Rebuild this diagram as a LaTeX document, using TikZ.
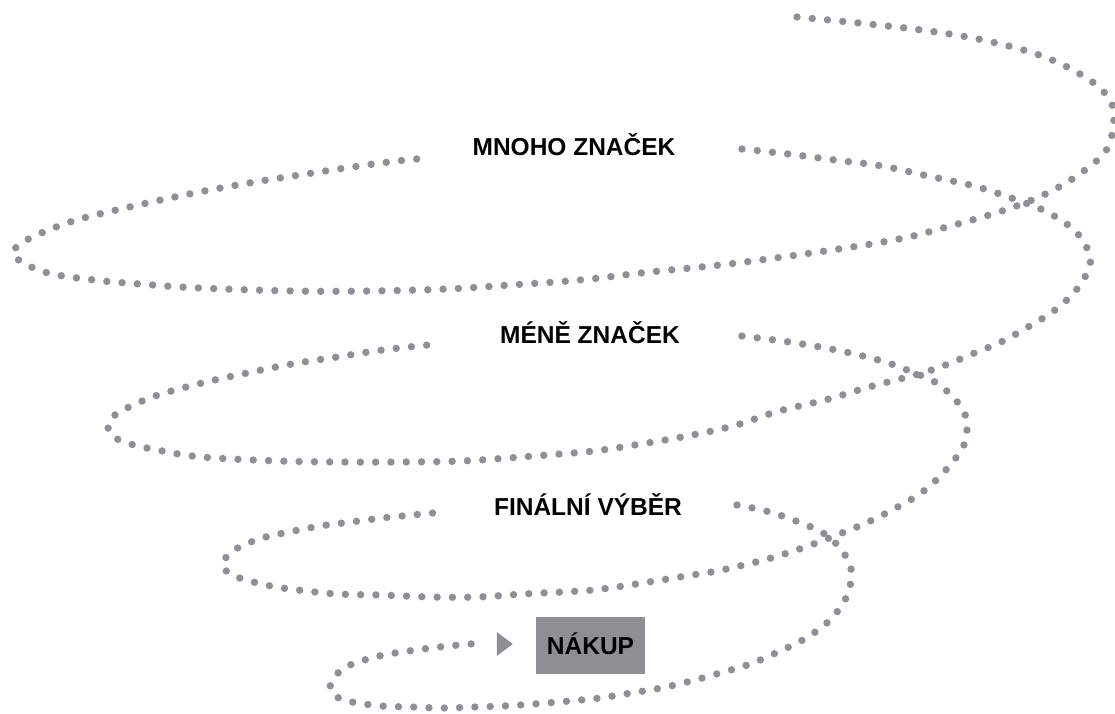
\documentclass[tikz,border=0pt]{standalone}
\usepackage{fontspec}
\setmainfont{Liberation Sans}
\usetikzlibrary{calc}
\definecolor{dotgrey}{RGB}{143,143,149}
\definecolor{boxgrey}{RGB}{143,143,147}
\tikzset{
  spiral/.style={dotgrey, line width=7.4pt, line cap=round,
    dash pattern=on 0pt off 15.3pt},
  stage/.style={font=\fontsize{24.5}{28}\selectfont\bfseries, text=black,
    inner sep=0pt, anchor=base},
  goal/.style={font=\fontsize{24.5}{28}\selectfont\bfseries, text=black,
    fill=boxgrey, minimum width=109pt, minimum height=57pt,
    text height=17.5pt, text depth=0pt, inner sep=0pt},
  tip/.style={fill=dotgrey}
}
\begin{document}
\begin{tikzpicture}[x=1pt,y=-1pt]
\useasboundingbox (0,0) rectangle (1115,713);

% stage labels along the spiral
\node[stage] (many)  at (574,155) {MNOHO ZNAČEK};
\node[stage] (fewer) at (590,343) {MÉNĚ ZNAČEK};
\node[stage] (final) at (588,515) {FINÁLNÍ VÝBĚR};
\node[goal]  (buy)   at (590.5,645.5) {NÁKUP};
\coordinate (tipend) at ($(buy.west)+(-23,-1.5)$);

% first turn: from the top right round to the first label
\draw[spiral] plot[smooth, tension=0.6] coordinates {
  (797,17) (859,23) (921,30) (983,40) (1042,56) (1085,77) (1108,97)
  (1114,118) (1107,149) (1085,170) (1059,187) (1032,200) (1002,211)
  (972,220) (943,228) (913,236) (883,242) (852,247) (790,256) (720,265)
  (650,272) (580,280) (510,285) (447,289) (370,291) (293,291) (200,288)
  (140,284) (94,280) (48,273) (22,262) (13,253) (23,242) (51,229) (80,219)
  (125,208) (170,198) (215,189) (261,181) (306,174) (352,167) (397,161)
  (428,158)};

% second turn
\draw[spiral] plot[smooth, tension=0.6] coordinates {
  (742,149) (788,154) (835,160) (882,166) (928,176) (974,186) (1017,200)
  (1047,212) (1073,229) (1087,248) (1090,265) (1077,289) (1055,310)
  (1028,327) (1001,342) (972,354) (943,366) (915,375) (869,387) (825,400)
  (779,411) (733,426) (687,436) (641,444) (594,451) (547,455) (508,458)
  (462,461) (400,462) (340,462) (280,461) (202,457) (157,450) (127,443)
  (113,436) (108,426) (116,414) (129,407) (158,395) (202,383) (247,373)
  (292,364) (337,357) (382,350) (428,345)};

% third turn
\draw[spiral] plot[smooth, tension=0.6] coordinates {
  (742,336) (789,342) (836,350) (882,361) (912,372) (935,382) (952,396)
  (964,412) (967,428) (963,447) (944,472) (921,493) (894,509) (866,523)
  (837,535) (808,546) (778,556) (748,564) (717,571) (686,576) (655,581)
  (623,586) (593,590) (562,592) (523,594) (477,597) (432,597) (380,595)
  (337,594) (307,591) (276,587) (246,580) (231,574) (223,566) (231,552)
  (259,539) (289,532) (320,526) (351,522) (382,518) (412,515) (443,512)};

% last turn, running into the purchase box
\draw[spiral] plot[smooth, tension=0.6] coordinates {
  (737,505) (766,511) (796,521) (823,533) (840,548) (850,565) (851,580)
  (846,598) (830,620) (806,638) (778,652) (750,664) (720,673) (691,681)
  (661,688) (631,693) (600,698) (569,701) (534,704) (503,706) (473,707)
  (443,708) (413,707) (382,706) (352,702) (337,697) (330,687) (338,673)
  (350,665) (379,656) (409,651) (439,647) (470,644) (485,643)};

% arrow tip pointing at the box
\fill[tip] (tipend) -- ++(-16,-12) -- ++(0,24) -- cycle;
\end{tikzpicture}
\end{document}
